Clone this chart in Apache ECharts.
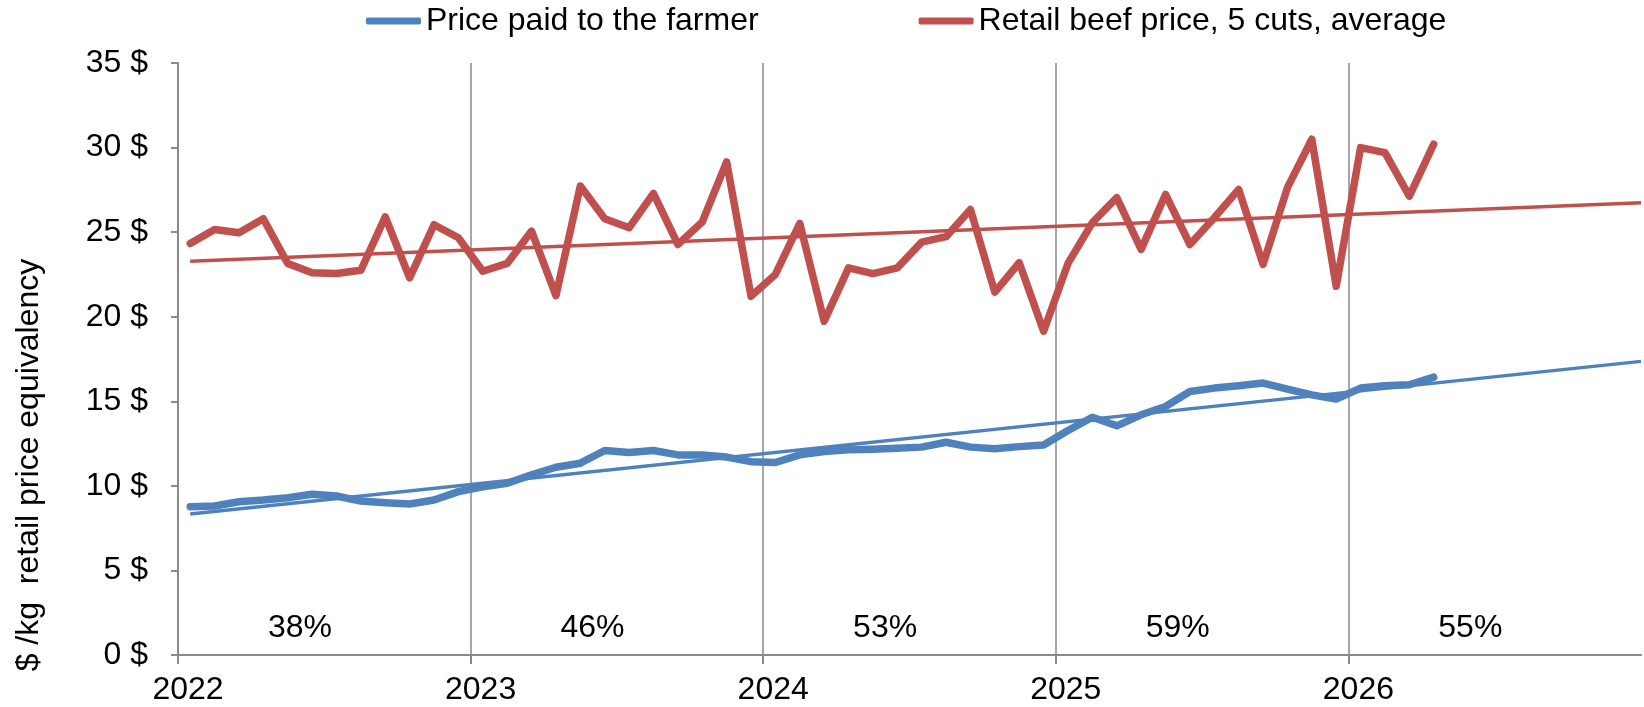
<!DOCTYPE html>
<html>
<head>
<meta charset="utf-8">
<script src="https://cdn.jsdelivr.net/npm/echarts@6/dist/echarts.min.js"></script>
<style>
html,body{margin:0;padding:0;background:#fff;}
#chart{width:1644px;height:707px;}
</style>
</head>
<body>
<div id="chart"></div>
<script>
// ---- data ----
var startYear = 2022;
var yearLabels = ['2022', '2023', '2024', '2025', '2026'];
var farmerName = 'Price paid to the farmer';
var retailName = 'Retail beef price, 5 cuts, average';
var yTitle = '$ /kg  retail price equivalency';

// monthly values, Jan 2022 .. Apr 2026
var farmerPrice = [
  8.77, 8.81, 9.06, 9.16, 9.30, 9.50, 9.40, 9.10, 9.00, 8.93, 9.16, 9.66,
  9.95, 10.15, 10.65, 11.10, 11.34, 12.09, 11.97, 12.09, 11.83, 11.83, 11.70, 11.43,
  11.38, 11.83, 12.03, 12.13, 12.17, 12.23, 12.29, 12.58, 12.29, 12.19, 12.32, 12.42,
  13.27, 14.06, 13.55, 14.20, 14.69, 15.58, 15.78, 15.92, 16.08, 15.72, 15.38, 15.13,
  15.78, 15.92, 15.98, 16.43
];
var retailPrice = [
  24.33, 25.16, 24.96, 25.79, 23.15, 22.60, 22.55, 22.75, 25.90, 22.30, 25.44, 24.67,
  22.69, 23.15, 25.06, 21.25, 27.73, 25.79, 25.26, 27.29, 24.27, 25.60, 29.15, 21.21,
  22.50, 25.52, 19.73, 22.89, 22.55, 22.89, 24.41, 24.73, 26.34, 21.45, 23.19, 19.14,
  23.15, 25.56, 27.04, 23.98, 27.23, 24.27, 25.85, 27.53, 23.09, 27.63, 30.49, 21.80,
  30.00, 29.70, 27.13, 30.20
];
// linear trend lines: value at first month, value at end of axis
var farmerTrend = [8.33, 17.36];
var retailTrend = [23.28, 26.74];
// farmer share of retail price, per year
var shareLabels = ['38%', '46%', '53%', '59%', '55%'];

// ---- chart ----
var BLUE = '#4F81BD', RED = '#C0504D', AXIS = '#898989';
var FONT = '"Liberation Sans", Arial, sans-serif';
var FS = 32;
var nMonths = yearLabels.length * 12;

function monthly(arr) {
  return arr.map(function (v, i) { return [i + 0.5, v]; });
}
function trend(t) {
  return [[0.5, t[0]], [nMonths, t[1]]];
}
var shareData = shareLabels.map(function (s, i) { return [i * 12 + 5, 1.6]; });

var chart = echarts.init(document.getElementById('chart'), null, {renderer: 'canvas'});
chart.setOption({
  animation: false,
  backgroundColor: '#ffffff',
  textStyle: {fontFamily: FONT},
  grid: {left: 178, right: 3, top: 63, bottom: 52, containLabel: false},
  legend: {
    left: 366, top: 5, padding: 0,
    itemWidth: 55, itemHeight: 7, itemGap: 160,
    icon: 'roundRect',
    data: [farmerName, retailName],
    textStyle: {fontSize: FS, color: '#000', fontFamily: FONT}
  },
  graphic: [{
    type: 'text',
    x: 29, y: 465,
    rotation: Math.PI / 2,
    style: {
      text: yTitle, fontSize: FS, fontFamily: FONT, fill: '#000',
      textAlign: 'center', textVerticalAlign: 'middle'
    }
  }],
  xAxis: {
    type: 'value', min: 0, max: nMonths, interval: 12,
    axisLine: {show: true, onZero: false, lineStyle: {color: AXIS, width: 2}},
    axisTick: {show: true, length: 9, lineStyle: {color: AXIS, width: 2}},
    splitLine: {show: true, showMinLine: false, showMaxLine: false, lineStyle: {color: AXIS, width: 1.5}},
    axisLabel: {
      fontSize: FS, color: '#000', fontFamily: FONT, margin: 19,
      padding: [0, 0, 0, 20],
      showMaxLabel: false,
      formatter: function (v) { var k = Math.round(v / 12); return k < yearLabels.length ? yearLabels[k] : ''; }
    }
  },
  yAxis: {
    type: 'value', min: 0, max: 35, interval: 5,
    axisLine: {show: true, lineStyle: {color: AXIS, width: 2}},
    axisTick: {show: true, length: 7, lineStyle: {color: AXIS, width: 2}},
    splitLine: {show: false},
    axisLabel: {fontSize: FS, color: '#000', fontFamily: FONT, margin: 30, formatter: '{value} $'}
  },
  series: [
    {
      name: retailName + ' trend', type: 'line', data: trend(retailTrend),
      showSymbol: false, symbol: 'none', silent: true,
      lineStyle: {color: RED, width: 3.5}, z: 2
    },
    {
      name: farmerName + ' trend', type: 'line', data: trend(farmerTrend),
      showSymbol: false, symbol: 'none', silent: true,
      lineStyle: {color: BLUE, width: 3.5}, z: 2
    },
    {
      name: farmerName, type: 'line', data: monthly(farmerPrice),
      showSymbol: false, symbol: 'none', color: BLUE,
      lineStyle: {color: BLUE, width: 7.5, join: 'round', cap: 'round'}, z: 3
    },
    {
      name: retailName, type: 'line', data: monthly(retailPrice),
      showSymbol: false, symbol: 'none', color: RED,
      lineStyle: {color: RED, width: 7.5, join: 'round', cap: 'round'}, z: 3
    },
    {
      name: 'share', type: 'custom', data: shareData, silent: true, z: 4,
      renderItem: function (params, api) {
        var p = api.coord([api.value(0), api.value(1)]);
        return {
          type: 'text', x: p[0], y: p[1],
          style: {
            text: shareLabels[params.dataIndex], fill: '#000',
            fontSize: FS, fontFamily: FONT,
            align: 'center', verticalAlign: 'middle'
          }
        };
      }
    }
  ]
});
</script>
</body>
</html>
